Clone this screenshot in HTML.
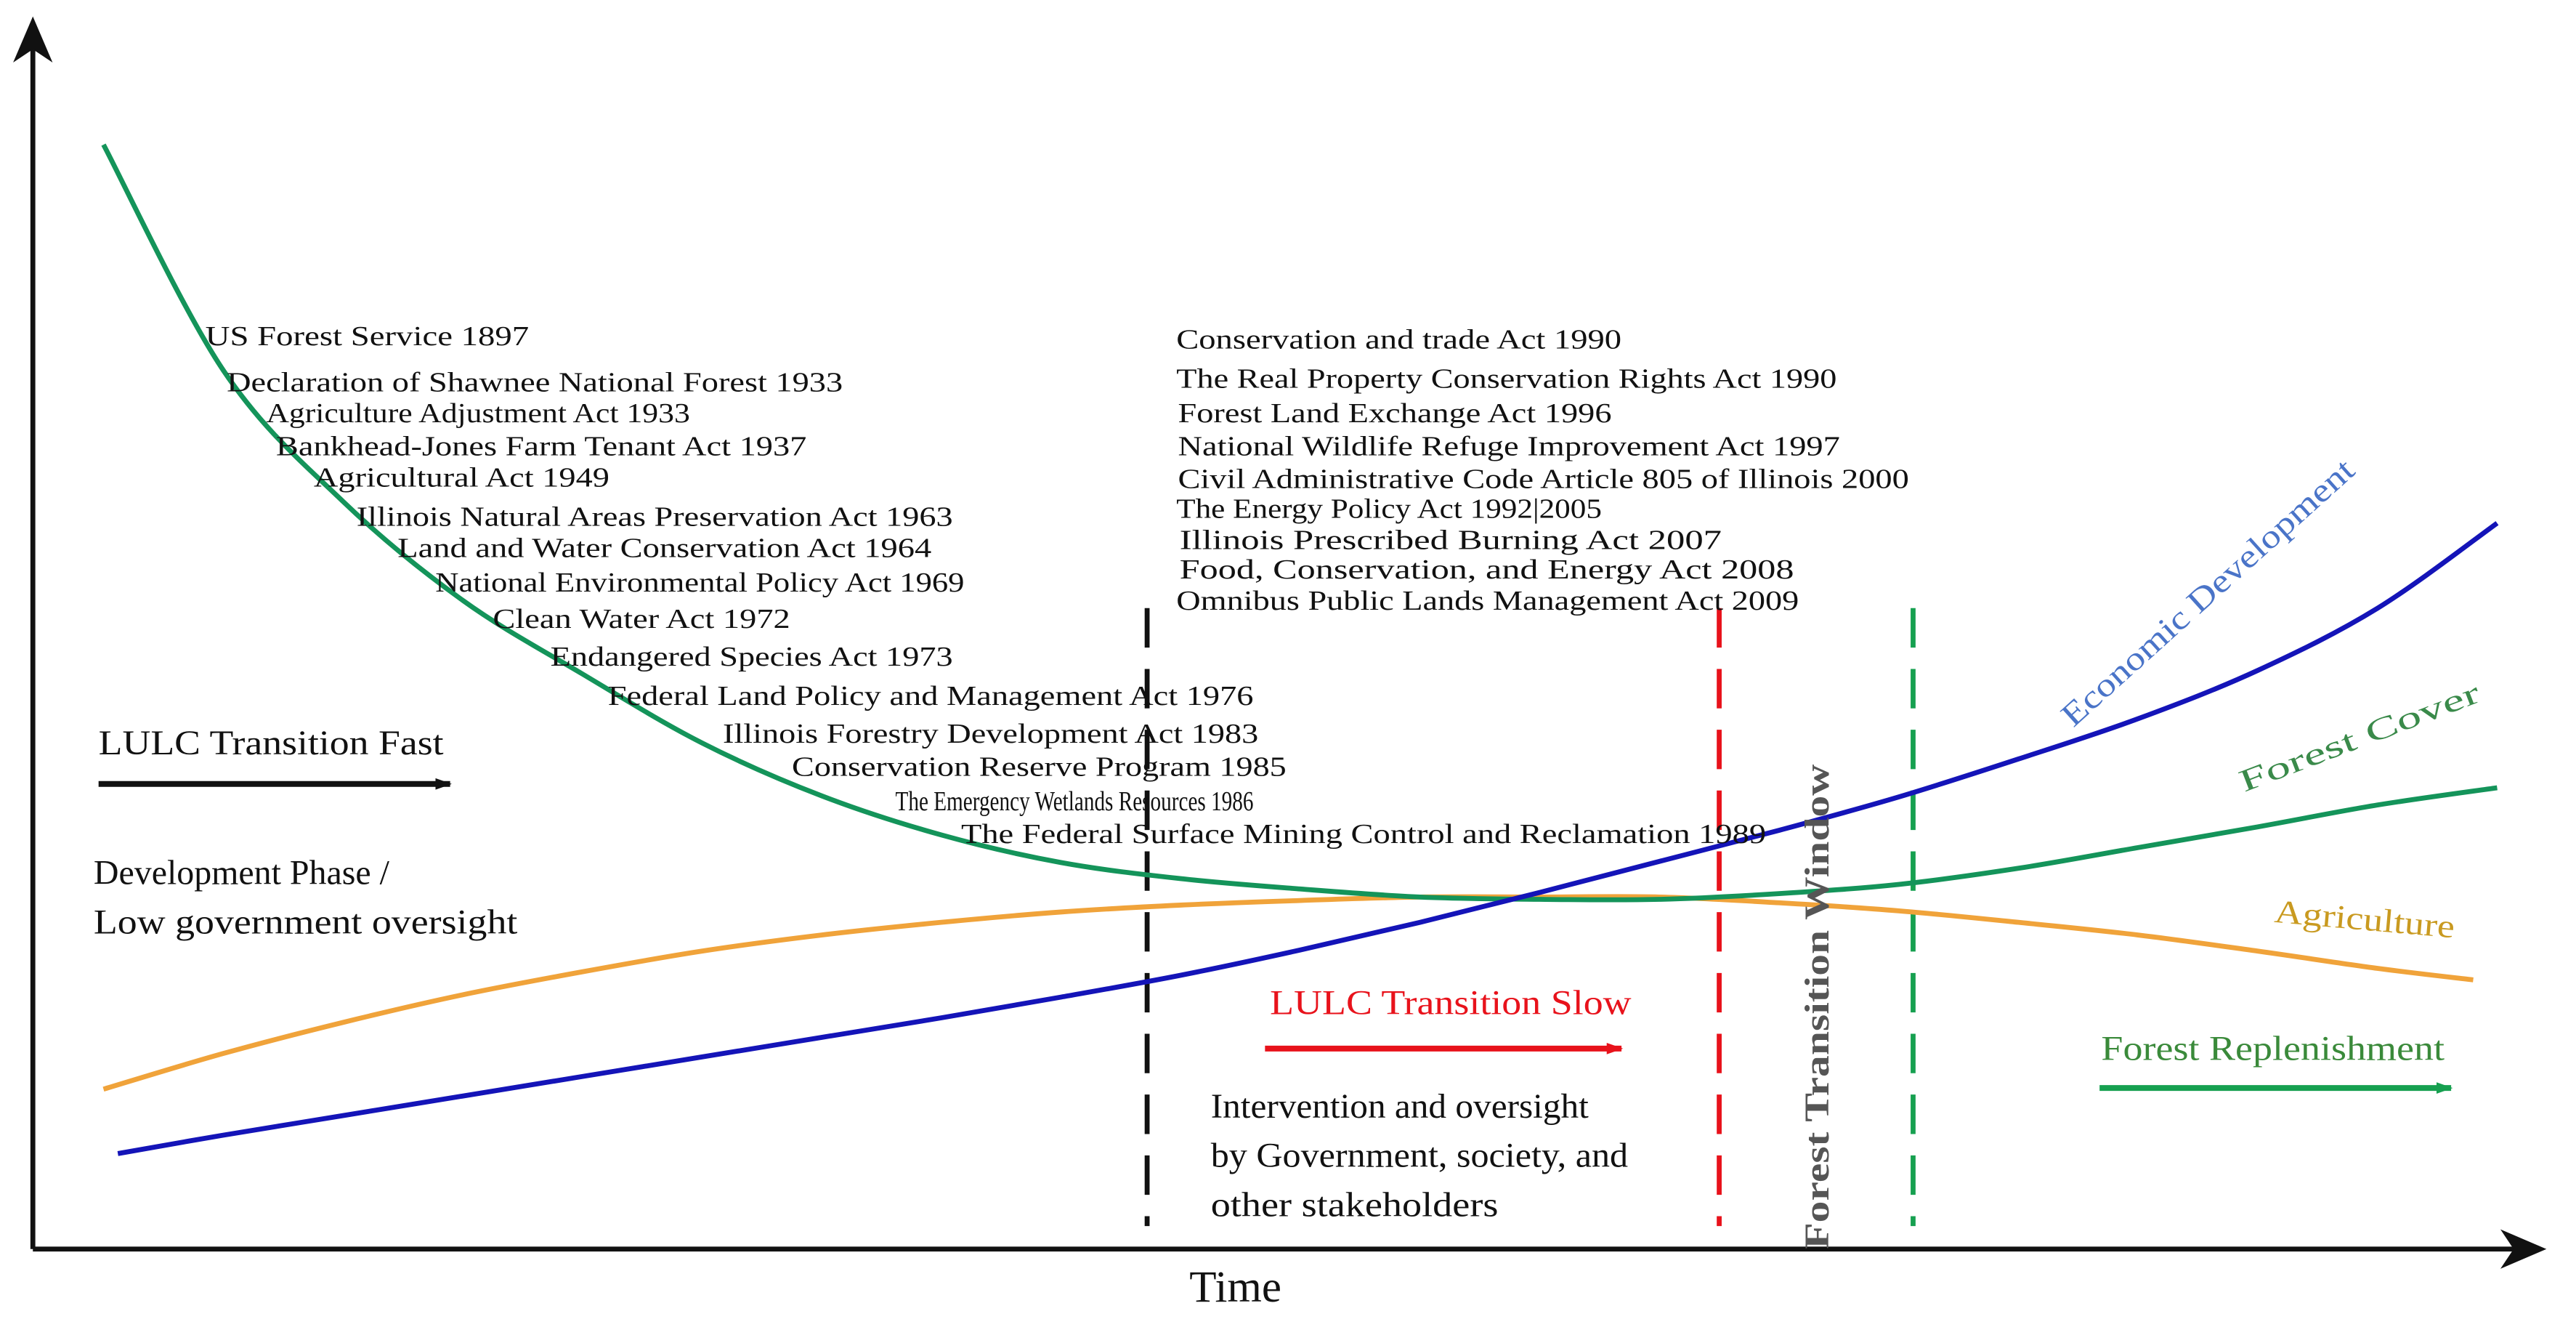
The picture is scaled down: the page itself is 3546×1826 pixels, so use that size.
<!DOCTYPE html>
<html><head><meta charset="utf-8"><style>
html,body{margin:0;padding:0;background:#fff;}
svg{display:block;}
svg text, svg tspan{font-family:"Liberation Serif","Times New Roman",serif !important;}
</style></head><body>
<svg id="chart" width="3546" height="1826" viewBox="0 0 1568 807.4" xmlns="http://www.w3.org/2000/svg">
<defs>
<marker id="ahBlack" markerUnits="userSpaceOnUse" markerWidth="10" markerHeight="8" refX="9" refY="4" orient="auto"><path d="M0,0.5 L10,4 L0,7.5 z" fill="#111"/></marker>
<marker id="ahRed" markerUnits="userSpaceOnUse" markerWidth="10" markerHeight="8" refX="9" refY="4" orient="auto"><path d="M0,0.5 L10,4 L0,7.5 z" fill="#e8121b"/></marker>
<marker id="ahGreen" markerUnits="userSpaceOnUse" markerWidth="10" markerHeight="8" refX="9" refY="4" orient="auto"><path d="M0,0.5 L10,4 L0,7.5 z" fill="#16a050"/></marker>
</defs>
<g id="axes">
<line x1="20" y1="760" x2="20" y2="30" stroke="#111" stroke-width="3"/>
<path d="M8,38 L20,10 L32,38 L20,30 z" fill="#111"/>
<line x1="20" y1="760" x2="1530" y2="760" stroke="#111" stroke-width="3"/>
<path d="M1522,748 L1550,760 L1522,772 L1530,760 z" fill="#111"/>
<text x="724" y="792" font-size="27" fill="#111">Time</text>
</g>
<g id="marks"></g>
<g id="labels" font-size="17" fill="#111"></g>
<text x="60" y="459" font-size="21" fill="#111" textLength="210" lengthAdjust="spacingAndGlyphs">LULC Transition Fast</text>
<line x1="60" y1="477" x2="274" y2="477" stroke="#111" stroke-width="3.5" marker-end="url(#ahBlack)"/>
<text x="57" y="538" font-size="21" fill="#111" textLength="180" lengthAdjust="spacingAndGlyphs">Development Phase /</text>
<text x="57" y="568" font-size="21" fill="#111" textLength="258" lengthAdjust="spacingAndGlyphs">Low government oversight</text>
<text x="773" y="617" font-size="21" fill="#e8121b" textLength="220" lengthAdjust="spacingAndGlyphs">LULC Transition Slow</text>
<line x1="770" y1="638" x2="987" y2="638" stroke="#e8121b" stroke-width="3.5" marker-end="url(#ahRed)"/>
<text x="737" y="680" font-size="21" fill="#111" textLength="230" lengthAdjust="spacingAndGlyphs">Intervention and oversight</text>
<text x="737" y="710" font-size="21" fill="#111" textLength="254" lengthAdjust="spacingAndGlyphs">by Government, society, and</text>
<text x="737" y="740" font-size="21" fill="#111" textLength="175" lengthAdjust="spacingAndGlyphs">other stakeholders</text>
<text transform="translate(1113,760) rotate(-90)" x="0" y="0" font-size="21" font-weight="bold" fill="#555" textLength="295" lengthAdjust="spacingAndGlyphs">Forest Transition Window</text>
<text transform="translate(1262,443) rotate(-42)" font-size="20" fill="#4a74c8" textLength="232" lengthAdjust="spacingAndGlyphs">Economic Development</text>
<text transform="translate(1366,482) rotate(-21)" font-size="19" fill="#3a8a4a" textLength="155" lengthAdjust="spacingAndGlyphs">Forest Cover</text>
<text transform="translate(1384,561) rotate(5)" font-size="20" fill="#c99a20" textLength="110" lengthAdjust="spacingAndGlyphs">Agriculture</text>
<text x="1279" y="645" font-size="21" fill="#3a8a3a" textLength="209" lengthAdjust="spacingAndGlyphs">Forest Replenishment</text>
<line x1="1278" y1="662" x2="1492" y2="662" stroke="#16a050" stroke-width="3.5" marker-end="url(#ahGreen)"/>
</svg>
<script>
// time (0..100) and relative level (0..100)
const forestT = [0,5,10,15,20,25,30,35,40,45,50,55,60,65,70,75,80,85,90,95,100];
const forestV = [96,76.4,65,56.4,50,44,39.4,36,33.6,32.2,31.3,30.6,30.4,30.4,30.9,31.7,33.1,34.9,36.7,38.6,40.1];
const agriT = [0,5,10,15,20,25,30,35,40,45,50,55,60,65,70,75,80,85,90,95,99];
const agriV = [13.9,17,19.7,22.1,24.1,25.9,27.3,28.4,29.3,29.9,30.3,30.6,30.6,30.6,30.1,29.4,28.4,27.3,25.9,24.4,23.4];
const econT = [0.6,5,10,15,20,25,30,35,40,45,50,55,60,65,70,75,80,85,90,95,100];
const econV = [8.3,9.9,11.6,13.3,15,16.7,18.4,20.1,21.9,23.8,26.0,28.4,31,33.7,36.4,39.3,42.6,46.1,50.3,55.7,63.1];
const phaseT = [43.6, 67.5, 75.6];
const phaseNames = ['intervention-start-line', 'forest-transition-start-line', 'forest-transition-end-line'];
const phaseColors = ['#111', '#e8121b', '#16a050'];
const leftLabels = ["US Forest Service 1897","Declaration of Shawnee National Forest 1933","Agriculture Adjustment Act 1933","Bankhead-Jones Farm Tenant Act 1937","Agricultural Act 1949","Illinois Natural Areas Preservation Act 1963","Land and Water Conservation Act 1964","National Environmental Policy Act 1969","Clean Water Act 1972","Endangered Species Act 1973","Federal Land Policy and Management Act 1976","Illinois Forestry Development Act 1983","Conservation Reserve Program 1985","The Emergency Wetlands Resources 1986","The Federal Surface Mining Control and Reclamation 1989"];
const rightLabels = ["Conservation and trade Act 1990","The Real Property Conservation Rights Act 1990","Forest Land Exchange Act 1996","National Wildlife Refuge Improvement Act 1997","Civil Administrative Code Article 805 of Illinois 2000","The Energy Policy Act 1992|2005","Illinois Prescribed Burning Act 2007","Food, Conservation, and Energy Act 2008","Omnibus Public Lands Management Act 2009"];

const X = t => 63 + t * 14.57;
const Y = v => 760 - v * 7;
const NS = 'http://www.w3.org/2000/svg';
function smooth(ts, vs) {
  const p = ts.map((t, i) => [X(t), Y(vs[i])]);
  let d = 'M' + p[0][0] + ',' + p[0][1];
  for (let i = 0; i < p.length - 1; i++) {
    const p0 = p[i - 1] || p[i], p1 = p[i], p2 = p[i + 1], p3 = p[i + 2] || p2;
    const c1x = p1[0] + (p2[0] - p0[0]) / 6, c1y = p1[1] + (p2[1] - p0[1]) / 6;
    const c2x = p2[0] - (p3[0] - p1[0]) / 6, c2y = p2[1] - (p3[1] - p1[1]) / 6;
    d += ' C' + c1x + ',' + c1y + ' ' + c2x + ',' + c2y + ' ' + p2[0] + ',' + p2[1];
  }
  return d;
}
const marks = document.getElementById('marks');
phaseT.forEach((t, i) => {
  const l = document.createElementNS(NS, 'line');
  
  
  l.setAttribute('x1', X(t)); l.setAttribute('x2', X(t));
  l.setAttribute('y1', 370); l.setAttribute('y2', 746);
  l.setAttribute('stroke', phaseColors[i]); l.setAttribute('stroke-width', 3);
  l.setAttribute('stroke-dasharray', '24 13');
  marks.appendChild(l);
});
function addCurve(ts, vs, color, name) {
  const p = document.createElementNS(NS, 'path');
  
  
  p.setAttribute('d', smooth(ts, vs));
  p.setAttribute('fill', 'none'); p.setAttribute('stroke', color); p.setAttribute('stroke-width', 3);
  marks.appendChild(p);
}
addCurve(agriT, agriV, '#f0a33a', 'agriculture-line');
addCurve(forestT, forestV, '#14945a', 'forest-cover-line');
addCurve(econT, econV, '#1414b8', 'economic-development-line');

const labels = document.getElementById('labels');
const leftPos = [[125,210,322],[138,238,513],[162,257,420],[168,277,491],[191,296,371],[217,320,580],[242,339,567],[265,360,587],[300,382,481],[335,405,580],[370,429,763],[440,452,766],[482,472,783],[545,493,763],[585,513,1075]];
const rightPos = [[716,212,987],[716,236,1118],[717,257,981],[717,277,1120],[717,297,1162],[716,315,975],[718,334,1048],[718,352,1092],[716,371,1095]];
function addLabel(txt, pos, name) {
  const t = document.createElementNS(NS, 'text');
  
  
  t.setAttribute('x', pos[0]); t.setAttribute('y', pos[1]);
  t.setAttribute('textLength', pos[2] - pos[0]);
  t.setAttribute('lengthAdjust', 'spacingAndGlyphs');
  t.textContent = txt;
  labels.appendChild(t);
}
leftLabels.forEach((s, i) => addLabel(s, leftPos[i], 'policy-label-early'));
rightLabels.forEach((s, i) => addLabel(s, rightPos[i], 'policy-label-late'));
</script>
</body></html>
